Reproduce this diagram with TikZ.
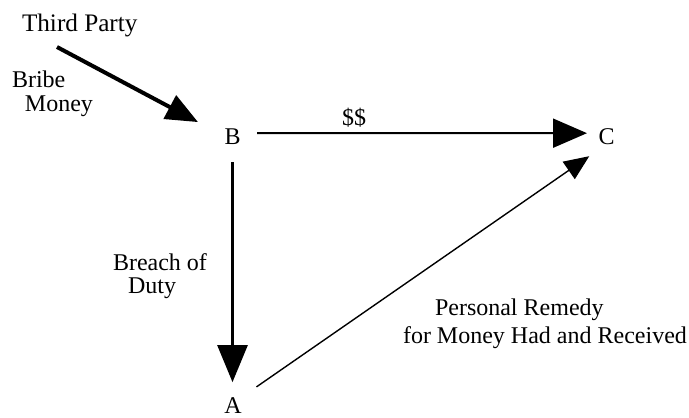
\documentclass[tikz,border=0pt]{standalone}
\usepackage{fontspec}
\setmainfont{Liberation Serif}
\usetikzlibrary{arrows.meta}
\begin{document}
\begin{tikzpicture}[x=0.5pt,y=-0.5pt,
  lbl/.style={inner sep=0pt, outer sep=0pt, font=\fontsize{12}{14}\selectfont},
  letter/.style={lbl, anchor=base},
  conn/.style={draw=black},
]
\useasboundingbox (0,0) rectangle (689,417);
% labels
\node[lbl, anchor=base west, font=\fontsize{12.6}{14}\selectfont] (third) at (22,32) {Third Party};
\node[lbl, anchor=base west] (bribeA) at (12,88) {Bribe};
\node[lbl, anchor=base west] (bribeB) at (25,112) {Money};
\node[lbl, anchor=base west] (dollars) at (342,126) {\$\$};
\node[lbl, anchor=base west] (breachA) at (113,270) {Breach of};
\node[lbl, anchor=base west] (breachB) at (128,293) {Duty};
\node[lbl, anchor=base west] (remA) at (435,315) {Personal Remedy};
\node[lbl, anchor=base west] (remB) at (403,343) {for Money Had and Received};
% parties
\node[letter] (B) at (232.5,144) {B};
\node[letter] (C) at (606.5,144) {C};
\node[letter] (A) at (233,413) {A};
\coordinate (bribeStart) at (57,47);
% connectors
\draw[conn, line width=2pt, shorten >=15pt, -{Triangle[length=16pt,width=13pt]}]
  (bribeStart) -- (B.west);
\draw[conn, line width=1pt, -{Triangle[length=17pt,width=14.5pt]}]
  ([xshift=8.25pt,yshift=1.5pt]B.east) -- ([xshift=-5.75pt,yshift=1.5pt]C.west);
\draw[conn, line width=1.3pt, shorten <=9pt, shorten >=7.5pt, -{Triangle[length=18.5pt,width=15pt]}]
  (B.south) -- (B.south |- A.north);
\draw[conn, line width=0.7pt, shorten <=9pt, shorten >=10.5pt, -{Triangle[length=12.5pt,width=10.5pt]}]
  (A.north east) -- (C.south);
\end{tikzpicture}
\end{document}
